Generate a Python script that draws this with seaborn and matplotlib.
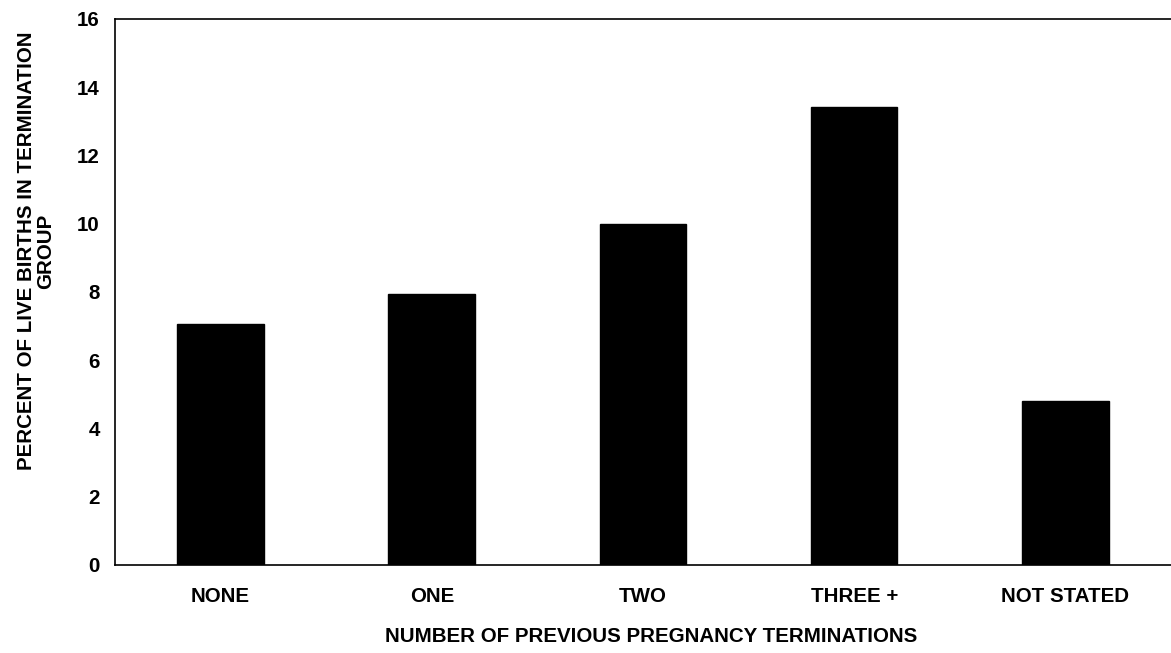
import matplotlib
matplotlib.use("Agg")
import matplotlib.pyplot as plt
import seaborn as sns
import pandas as pd

categories = ["NONE", "ONE", "TWO", "THREE +", "NOT STATED"]
values = [7.05, 7.94, 10.0, 13.42, 4.81]
yticks = [0, 2, 4, 6, 8, 10, 12, 14, 16]

sns.set_theme(style="white")
plt.rcParams['font.family'] = ['Liberation Sans', 'DejaVu Sans']
plt.rcParams['font.weight'] = 'bold'
plt.rcParams['text.color'] = 'black'
plt.rcParams['axes.labelcolor'] = 'black'
plt.rcParams['xtick.color'] = 'black'
plt.rcParams['ytick.color'] = 'black'

FS = 14.8

df = pd.DataFrame({"cat": categories, "val": values})

fig = plt.figure(figsize=(11.71, 6.53), dpi=100)
ax = fig.add_axes([0.0982, 0.1348, 0.9018, 0.8362])
sns.barplot(data=df, x="cat", y="val", order=categories, color="black",
            width=0.41, ax=ax, saturation=1)
for p in ax.patches:
    p.set_edgecolor("black")
ax.set_xlim(-0.5, 4.5)
ax.set_ylim(0, 16)
ax.set_yticks(yticks)
ax.set_yticklabels([str(t) for t in yticks], fontsize=FS, fontweight="bold")
for lbl in ax.get_xticklabels():
    lbl.set_fontsize(FS)
    lbl.set_fontweight("bold")
ax.tick_params(axis="x", pad=16, length=0)
ax.tick_params(axis="y", pad=11, length=0)
ax.set_xlabel("NUMBER OF PREVIOUS PREGNANCY TERMINATIONS", fontsize=FS,
              fontweight="bold")
ax.set_ylabel("PERCENT OF LIVE BIRTHS IN TERMINATION\nGROUP", fontsize=FS,
              fontweight="bold", linespacing=1.0)
ax.xaxis.set_label_coords(0.5076, -0.113)
ax.yaxis.set_label_coords(-0.0567, 0.575)
for s in ["left", "top", "bottom"]:
    ax.spines[s].set_visible(True)
    ax.spines[s].set_color("black")
    ax.spines[s].set_linewidth(1.2)
ax.spines["right"].set_visible(False)
ax.grid(False)
fig.savefig("out.png", dpi=100, facecolor="white")
